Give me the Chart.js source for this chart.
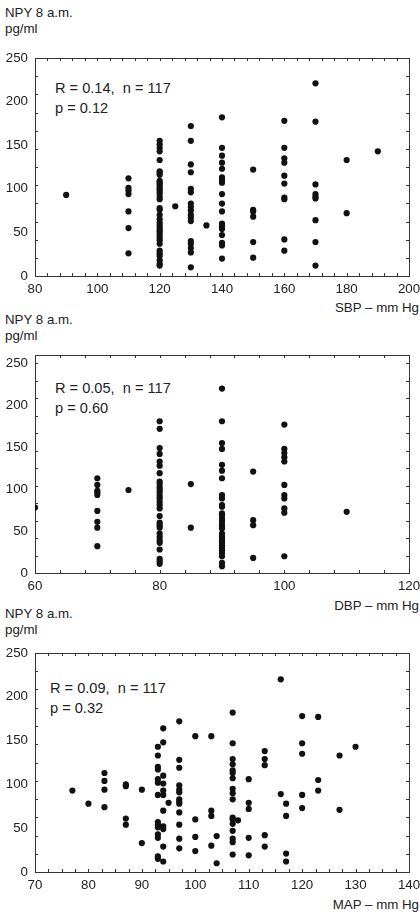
<!DOCTYPE html>
<html>
<head>
<meta charset="utf-8">
<script src="https://cdn.jsdelivr.net/npm/chart.js@4/dist/chart.umd.min.js"></script>
<style>
  html, body { margin:0; padding:0; background:#fff; }
  body { width:420px; height:920px; position:relative; overflow:hidden; font-family:"Liberation Sans", Arial, sans-serif; color:#222; }
  canvas { position:absolute; left:0; }
  .t { position:absolute; font-size:13.3px; line-height:16px; white-space:nowrap; }
  .ann { position:absolute; font-size:14.6px; line-height:20px; white-space:nowrap; }
  .xt { position:absolute; right:1px; font-size:13.3px; line-height:16px; white-space:nowrap; text-align:right; }
</style>
</head>
<body>
<div class="t" style="left:5px;top:5px;">NPY 8 a.m.<br>pg/ml</div>
<div class="ann" style="left:55px;top:78px;">R = 0.14,&nbsp; n = 117<br>p = 0.12</div>
<div class="xt" style="top:300px;">SBP – mm Hg</div>

<div class="t" style="left:5px;top:312px;">NPY 8 a.m.<br>pg/ml</div>
<div class="ann" style="left:55px;top:378px;">R = 0.05,&nbsp; n = 117<br>p = 0.60</div>
<div class="xt" style="top:598px;">DBP – mm Hg</div>

<div class="t" style="left:5px;top:606px;">NPY 8 a.m.<br>pg/ml</div>
<div class="ann" style="left:50px;top:678px;">R = 0.09,&nbsp; n = 117<br>p = 0.32</div>
<div class="xt" style="top:897px;">MAP – mm Hg</div>

<canvas id="c1" width="420" height="250" style="top:48px"></canvas>
<canvas id="c2" width="420" height="250" style="top:345px"></canvas>
<canvas id="c3" width="420" height="251" style="top:643px"></canvas>

<script>
// ---------- data ----------
const npyTicks = [0, 50, 100, 150, 200, 250];

// Panel 1: SBP
const sbpTicks = [80, 100, 120, 140, 160, 180, 200];
const sbpLevels = [90, 110, 120, 125, 130, 135, 140, 150, 160, 170, 180, 190];
const npyBySbp = [
  [93],
  [112, 101, 98, 94, 74, 55, 26],
  [155, 151, 147, 143, 133, 120, 118, 116, 109, 107, 105, 102, 100, 98, 95, 91, 88, 78, 76, 70, 65, 61, 58, 55, 52, 50, 47, 44, 41, 37, 29, 26, 23, 18, 14, 12],
  [80],
  [172, 155, 128, 119, 100, 96, 83, 79, 75, 70, 67, 63, 40, 37, 32, 27, 10],
  [58],
  [182, 147, 138, 130, 123, 113, 110, 107, 94, 83, 74, 60, 57, 54, 47, 38, 35, 20],
  [122, 76, 74, 68, 39, 21],
  [178, 147, 135, 130, 115, 106, 90, 88, 42, 29],
  [221, 177, 105, 94, 91, 89, 64, 39, 12],
  [133, 72],
  [143]
];

// Panel 2: DBP
const dbpTicks = [60, 80, 100, 120];
const dbpLevels = [60, 70, 75, 80, 85, 90, 95, 100, 110];
const npyByDbp = [
  [78],
  [113, 105, 98, 96, 93, 74, 61, 54, 32],
  [99],
  [181, 172, 149, 142, 133, 128, 119, 109, 106, 102, 99, 96, 92, 89, 85, 81, 77, 68, 60, 57, 54, 47, 43, 39, 36, 28, 17, 14, 11],
  [106, 54],
  [220, 181, 155, 148, 129, 122, 113, 93, 89, 81, 79, 71, 69, 65, 62, 58, 55, 53, 47, 44, 42, 39, 36, 33, 30, 27, 24, 20, 12, 8],
  [121, 63, 57, 18],
  [177, 148, 143, 138, 133, 105, 93, 89, 77, 72, 20],
  [73]
];

// Panel 3: MAP
const mapTicks = [70, 80, 90, 100, 110, 120, 130, 140];
const mapLevels = [77, 80, 83, 87, 90, 93, 94, 95, 97, 100, 103, 104, 107, 108, 110, 113, 116, 117, 120, 123, 127, 130];
const npyByMap = [
  [93],
  [78],
  [113, 104, 94, 74],
  [100, 98, 61, 54],
  [94, 33],
  [143, 133, 120, 117, 106, 102, 88, 57, 54, 51, 43, 39, 18, 15],
  [164, 148, 110, 101, 93, 88, 70, 52, 49, 29, 12],
  [79],
  [172, 128, 119, 99, 94, 91, 83, 80, 78, 68, 54, 38, 27],
  [155, 60, 40, 24],
  [155, 70, 64, 30],
  [41, 10],
  [182, 147, 129, 123, 116, 113, 107, 95, 90, 83, 62, 60, 55, 47, 38, 34, 20],
  [59],
  [106, 79, 72, 39, 19],
  [138, 129, 122, 42, 29],
  [220, 89],
  [78, 64, 21, 12],
  [178, 147, 135, 88, 73],
  [177, 105, 93],
  [133, 71],
  [143]
];

// ---------- drawing ----------
const INK = '#222';
const FONT = { family: '"Liberation Sans", Arial, sans-serif', size: 13.3 };

function toPoints(levels, groups) {
  const pts = [];
  levels.forEach((x, i) => groups[i].forEach(y => pts.push({ x: x, y: y })));
  return pts;
}

const frameTicks = {
  id: 'frameTicks',
  beforeDatasetsDraw(chart, args, o) {
    const ctx = chart.ctx, a = chart.chartArea;
    const xs = chart.scales.x, ys = chart.scales.y;
    ctx.save();
    ctx.strokeStyle = '#333';
    ctx.lineWidth = 1;
    ctx.strokeRect(Math.round(a.left) + 0.5, Math.round(a.top) + 0.5,
                   Math.round(a.right - a.left), Math.round(a.bottom - a.top));
    ctx.beginPath();
    for (let v = xs.min; v <= xs.max + 1e-6; v += o.xStep) {
      const p = Math.round(xs.getPixelForValue(v)) + 0.5;
      ctx.moveTo(p, a.bottom); ctx.lineTo(p, a.bottom - 3);
      ctx.moveTo(p, a.top); ctx.lineTo(p, a.top + 3);
    }
    for (let v = 0; v <= o.yTop + 1e-6; v += o.yStep) {
      const p = Math.round(ys.getPixelForValue(v)) + 0.5;
      ctx.moveTo(a.left, p); ctx.lineTo(a.left + 3, p);
      ctx.moveTo(a.right, p); ctx.lineTo(a.right - 3, p);
    }
    ctx.stroke();
    ctx.restore();
  }
};

function makeChart(id, levels, groups, xMin, xMax, xTickList, xStep, yMax) {
  return new Chart(document.getElementById(id), {
    type: 'scatter',
    data: {
      datasets: [{
        data: toPoints(levels, groups),
        pointRadius: 3.1,
        pointHoverRadius: 3.1,
        pointBackgroundColor: '#111',
        pointBorderWidth: 0,
        borderColor: '#111'
      }]
    },
    options: {
      responsive: false,
      animation: false,
      devicePixelRatio: 1,
      layout: { padding: { top: 10, right: 11, left: 0, bottom: 0 } },
      plugins: {
        legend: { display: false },
        tooltip: { enabled: false },
        frameTicks: { xStep: xStep, yStep: 250 / 12, yTop: 250 }
      },
      scales: {
        x: {
          type: 'linear', min: xMin, max: xMax,
          afterBuildTicks: s => { s.ticks = xTickList.map(v => ({ value: v })); },
          grid: { display: false, drawTicks: false },
          border: { display: false },
          ticks: { font: FONT, color: INK, padding: 5, maxRotation: 0, autoSkip: false },
          afterFit: s => { s.height = 22; s.paddingLeft = 0; s.paddingRight = 0; }
        },
        y: {
          type: 'linear', min: 0, max: yMax,
          afterBuildTicks: s => { s.ticks = npyTicks.map(v => ({ value: v })); },
          grid: { display: false, drawTicks: false },
          border: { display: false },
          ticks: { font: FONT, color: INK, padding: 7, autoSkip: false },
          afterFit: s => { s.width = 35; s.paddingTop = 0; s.paddingBottom = 0; }
        }
      }
    },
    plugins: [frameTicks]
  });
}

makeChart('c1', sbpLevels, npyBySbp, 80, 200, sbpTicks, 4, 250);
makeChart('c2', dbpLevels, npyByDbp, 60, 120, dbpTicks, 4, 260);
makeChart('c3', mapLevels, npyByMap, 70, 140, mapTicks, 2.5, 250);
</script>
</body>
</html>
